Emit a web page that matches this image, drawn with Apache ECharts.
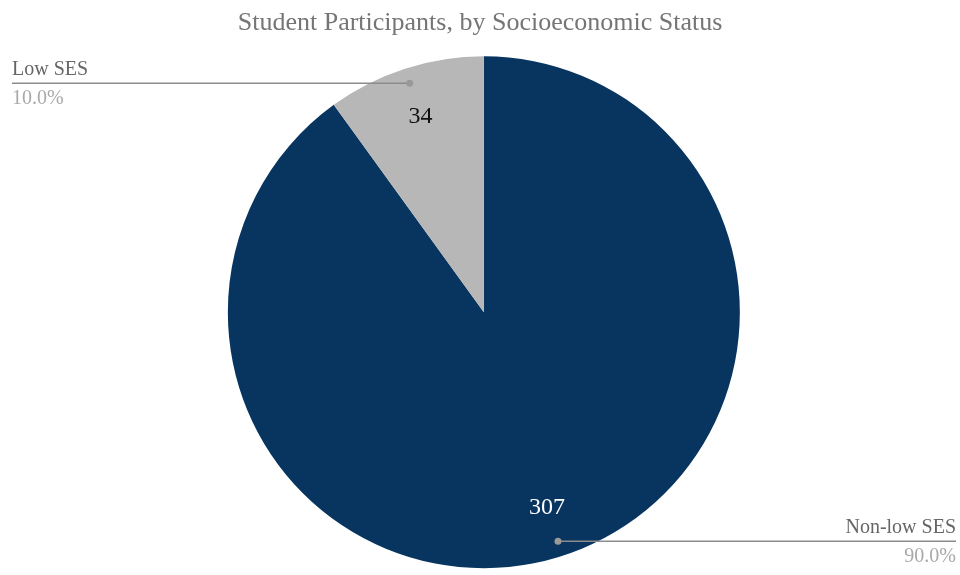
<!DOCTYPE html>
<html><head><meta charset="utf-8">
<script src="https://cdn.jsdelivr.net/npm/echarts@6/dist/echarts.min.js"></script>
<style>html,body{margin:0;padding:0;background:#fff}#c{width:960px;height:575px}</style>
</head><body><div id="c"></div>
<script>
const categories = ['Non-low SES', 'Low SES'];
const values = [307, 34];
const colors = ['#08355f', '#b7b7b7'];
const innerLabelColors = ['#ffffff', '#111111'];
const titleText = 'Student Participants, by Socioeconomic Status';

const FONT = '"Liberation Serif", "DejaVu Serif", serif';
const chart = echarts.init(document.getElementById('c'));
const W = chart.getWidth(), H = chart.getHeight();
const CX = 0.504, CY = 0.543, R = 256;
const total = values.reduce((a, b) => a + b, 0);

function midAngle(i) {
  let start = 90;
  for (let k = 0; k < i; k++) start -= values[k] / total * 360;
  const mid = start - values[i] / total * 180;
  return mid * Math.PI / 180;
}
function dotPos(i) {
  const a = midAngle(i);
  const r = R * 0.94;
  return [W * CX + r * Math.cos(a), H * CY - r * Math.sin(a)];
}

const data = categories.map((c, i) => ({ name: c, value: values[i], itemStyle: { color: colors[i] } }));
const innerData = categories.map((c, i) => ({ name: c, value: values[i], label: { color: innerLabelColors[i] } }));
const outerData = categories.map((c, i) => ({ name: c, value: values[i] }));

chart.setOption({
  animation: false,
  title: {
    text: titleText, left: 'center', top: 5,
    textStyle: { fontFamily: FONT, fontSize: 26, fontWeight: 'normal', color: '#757575' }
  },
  graphic: categories.map((c, i) => ({
    type: 'circle', z: 100,
    shape: { cx: dotPos(i)[0], cy: dotPos(i)[1], r: 3.5 },
    style: { fill: '#999999' }
  })),
  series: [
    {
      type: 'pie', z: 2, center: [CX * 100 + '%', CY * 100 + '%'], radius: [0, R],
      startAngle: 90, clockwise: true, silent: true,
      data: data,
      label: { show: false }, labelLine: { show: false }
    },
    {
      type: 'pie', z: 3, center: [CX * 100 + '%', CY * 100 + '%'], radius: [R * 0.58, R],
      startAngle: 90, clockwise: true, silent: true,
      itemStyle: { color: 'rgba(0,0,0,0)' },
      data: innerData,
      label: { show: true, position: 'inside', formatter: '{c}', fontFamily: FONT, fontSize: 24 },
      labelLine: { show: false }
    },
    {
      type: 'pie', z: 10, center: [CX * 100 + '%', CY * 100 + '%'], radius: [0, R],
      startAngle: 90, clockwise: true, silent: true,
      itemStyle: { color: 'rgba(0,0,0,0)' },
      data: outerData,
      label: {
        show: true, position: 'outside',
        formatter: p => '{n|' + p.name + '}\n{p|' + (p.value / total * 100).toFixed(1) + '%}',
        rich: {
          n: { fontFamily: FONT, fontSize: 20, color: '#666666', lineHeight: 29 },
          p: { fontFamily: FONT, fontSize: 20, color: '#a9a9a9', lineHeight: 29 }
        }
      },
      labelLine: { show: true, length: 10, length2: 10, lineStyle: { color: '#8c8c8c', width: 1.5 } },
      labelLayout: function (params) {
        const i = params.dataIndex;
        const d = dotPos(i);
        const isLeft = d[0] < W / 2;
        const ex = isLeft ? 12 : W - 4;
        return {
          x: ex, y: d[1] + 1, align: isLeft ? 'left' : 'right', verticalAlign: 'middle',
          labelLinePoints: [[d[0], d[1]], [(d[0] + ex) / 2, d[1]], [ex, d[1]]]
        };
      }
    }
  ]
});
</script></body></html>
